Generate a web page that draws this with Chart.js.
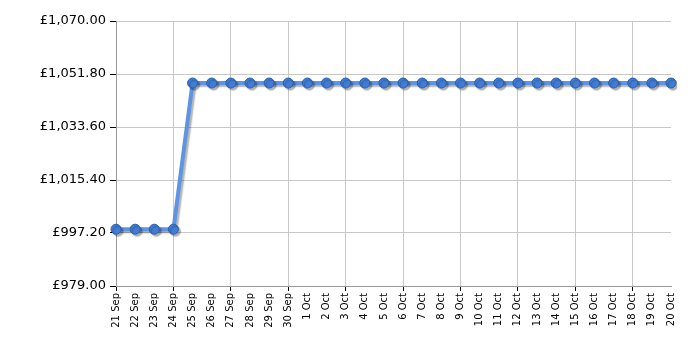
<!DOCTYPE html>
<html lang="en">
  <head>
    <meta charset="UTF-8" />
    <title>Price history</title>
    <script src="https://cdn.jsdelivr.net/npm/chart.js"></script>
    <style>
      html,
      body {
        width: 100%;
        height: 100%;
        margin: 0;
        padding: 0;
        background: #fff;
      }
      #wrap {
        width: 700px;
        height: 350px;
      }
    </style>
  </head>
  <body>
    <div id="wrap"><canvas id="priceChart"></canvas></div>

    <script>
      const dates = [
        "21 Sep", "22 Sep", "23 Sep", "24 Sep", "25 Sep", "26 Sep", "27 Sep",
        "28 Sep", "29 Sep", "30 Sep", "1 Oct", "2 Oct", "3 Oct", "4 Oct",
        "5 Oct", "6 Oct", "7 Oct", "8 Oct", "9 Oct", "10 Oct", "11 Oct",
        "12 Oct", "13 Oct", "14 Oct", "15 Oct", "16 Oct", "17 Oct", "18 Oct",
        "19 Oct", "20 Oct",
      ];
      const prices = [
        998.5, 998.5, 998.5, 998.5, 1048.7, 1048.7, 1048.7, 1048.7, 1048.7,
        1048.7, 1048.7, 1048.7, 1048.7, 1048.7, 1048.7, 1048.7, 1048.7, 1048.7,
        1048.7, 1048.7, 1048.7, 1048.7, 1048.7, 1048.7, 1048.7, 1048.7, 1048.7,
        1048.7, 1048.7, 1048.7,
      ];
      const yTicks = [979.0, 997.2, 1015.4, 1033.6, 1051.8, 1070.0];

      // grey drop shadow under the line and points
      const shadowPlugin = {
        id: "shadow",
        beforeDatasetsDraw(chart) {
          const ctx = chart.ctx;
          ctx.save();
          ctx.shadowColor = "rgba(0,0,0,0.3)";
          ctx.shadowBlur = 1.5;
          ctx.shadowOffsetX = 2;
          ctx.shadowOffsetY = 2;
        },
        afterDatasetsDraw(chart) {
          chart.ctx.restore();
        },
      };

      const fmt = (v) =>
        "£" +
        v.toLocaleString("en-GB", {
          minimumFractionDigits: 2,
          maximumFractionDigits: 2,
        });

      const ctx = document.getElementById("priceChart").getContext("2d");
      new Chart(ctx, {
        type: "line",
        data: {
          labels: dates,
          datasets: [
            {
              data: prices,
              borderColor: "#5e95e3",
              borderWidth: 4,
              pointBackgroundColor: "#3f7dd8",
              pointBorderColor: "#2d5fa8",
              pointBorderWidth: 1,
              pointRadius: 5,
              tension: 0,
            },
          ],
        },
        plugins: [shadowPlugin],
        options: {
          responsive: true,
          maintainAspectRatio: false,
          animation: false,
          layout: { padding: { top: 21, right: 29, left: 0, bottom: 0 } },
          plugins: {
            legend: { display: false },
            tooltip: { enabled: false },
          },
          scales: {
            x: {
              offset: false,
              afterFit: (s) => {
                s.height = 64;
              },
              border: { color: "#999", width: 1 },
              grid: {
                color: (c) => (c.index % 3 === 0 ? "#c8c8c8" : "rgba(0,0,0,0)"),
                tickColor: (c) => (c.index % 3 === 0 ? "#000" : "rgba(0,0,0,0)"),
                tickLength: 5,
              },
              ticks: {
                autoSkip: false,
                minRotation: 90,
                maxRotation: 90,
                padding: 2,
                color: "#000",
                font: { family: "DejaVu Sans", size: 10 },
              },
            },
            y: {
              min: 979,
              max: 1070,
              afterFit: (s) => {
                s.width = 116;
              },
              afterBuildTicks: (s) => {
                s.ticks = yTicks.map((v) => ({ value: v }));
              },
              border: { color: "#999", width: 1 },
              grid: {
                color: "#c8c8c8",
                tickColor: "#000",
                tickLength: 6,
              },
              ticks: {
                padding: 4,
                color: "#000",
                font: { family: "DejaVu Sans", size: 13 },
                callback: (v) => fmt(v),
              },
            },
          },
        },
      });
    </script>
  </body>
</html>
